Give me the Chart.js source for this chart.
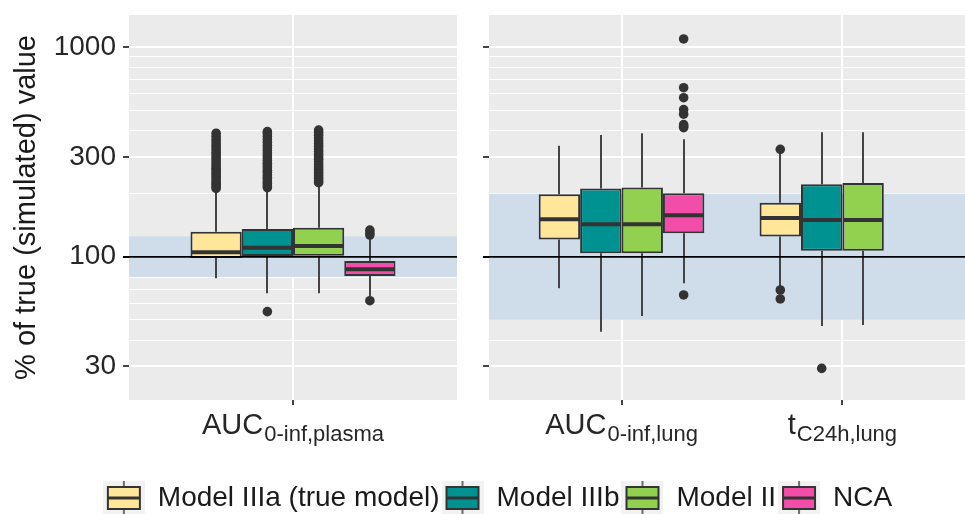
<!DOCTYPE html>
<html>
<head>
<meta charset="utf-8">
<script src="https://cdn.jsdelivr.net/npm/chart.js"></script>
<style>
html,body{margin:0;padding:0;background:#fff;overflow:hidden;width:965px;height:514px}
#wrap{position:relative;width:965px;height:514px}
canvas{position:absolute;top:0;left:0}
#c2{z-index:1}
#c1{z-index:2}
</style>
</head>
<body>
<div id="wrap">
<canvas id="c2" width="965" height="514"></canvas>
<canvas id="c1" width="470" height="514"></canvas>
</div>
<script>
// ---------------- data ----------------
const seriesNames = ['Model IIIa (true model)', 'Model IIIb', 'Model II', 'NCA'];
const seriesColors = ['#FFE699', '#009290', '#92D050', '#F34DAA'];

// Panel 1: AUC0-inf,plasma  (one value per series)
const plasmaLabelMain = ['AUC'];
const plasmaLabelSub = ['0-inf,plasma'];
const plasmaQ1 = [98.6, 100.9, 101, 81];
const plasmaMedian = [105, 110.5, 112.6, 87.2];
const plasmaQ3 = [131.8, 135.8, 137.7, 95.5];
const plasmaLow = [78.9, 66.9, 66.9, 64.5];
const plasmaHigh = [205, 208, 220, 123];
const plasmaOutliers = [
  [212, 216, 221, 225, 230, 236, 241, 247, 252, 259, 265, 271, 278, 285, 293, 300, 308, 316, 325, 334, 343, 353, 364, 376, 389],
  [54.7, 214, 219, 224, 229, 235, 240, 246, 253, 259, 266, 273, 280, 288, 296, 304, 313, 322, 331, 341, 352, 363, 375, 387, 396],
  [226, 231, 237, 243, 249, 255, 262, 269, 276, 284, 292, 300, 309, 318, 327, 337, 347, 358, 369, 381, 392, 403],
  [61.7, 127, 130, 134]
];

// Panel 2: [AUC0-inf,lung, tC24h,lung] per series
const lungLabelMain = ['AUC', 't'];
const lungLabelSub = ['0-inf,lung', 'C24h,lung'];
const lungQ1 = [[121, 125], [104, 107], [104, 107], [129.5, null]];
const lungMedian = [[151, 153], [143, 150], [143, 150], [158, null]];
const lungQ3 = [[199, 181], [212, 222], [214, 225], [201, null]];
const lungLow = [[70.7, 72], [43.9, 46.7], [52.2, 47.2], [74.7, null]];
const lungHigh = [[339, 317], [382, 393], [389, 393], [364, null]];
const lungOutliers = [
  [[], [62.9, 69.4, 326]],
  [[], [29.3]],
  [[], []],
  [[65.7, 414, 420, 428, 480, 505, 575, 642, 1097], []]
];

const yTickValues = [30, 100, 300, 1000];
const yMinorValues = [40, 50, 60, 70, 80, 90, 200, 400, 500, 600, 700, 800, 900];
const referenceValue = 100;
const plasmaBand = [80, 125];
const lungBand = [50, 200];

// ---------------- drawing ----------------
const FONT = "'Liberation Sans', Arial, Helvetica, sans-serif";
Chart.defaults.font.family = FONT;

const boxPlugin = {
  id: 'box',
  beforeDraw(chart) {
    const {ctx, chartArea: a} = chart;
    ctx.save();
    ctx.fillStyle = '#EBEBEB';
    ctx.fillRect(a.left, a.top, a.right - a.left, a.bottom - a.top);
    ctx.restore();
  },
  beforeDatasetsDraw(chart) {
    const {ctx, chartArea: a, scales: {y}} = chart;
    const o = chart.options.plugins.box;
    ctx.save();
    ctx.beginPath();
    ctx.rect(a.left, a.top, a.right - a.left, a.bottom - a.top);
    ctx.clip();
    const yb1 = y.getPixelForValue(o.band[1]);
    const yb0 = y.getPixelForValue(o.band[0]);
    ctx.fillStyle = '#CFDCEA';
    ctx.fillRect(a.left, yb1, a.right - a.left, yb0 - yb1);
    ctx.strokeStyle = '#444';
    ctx.lineWidth = 2;
    chart.data.datasets.forEach((ds, d) => {
      const meta = chart.getDatasetMeta(d);
      ds.data.forEach((pt, i) => {
        const el = meta.data[i];
        const x = Math.round(el.x);
        ctx.beginPath();
        ctx.moveTo(x, y.getPixelForValue(pt.hi));
        ctx.lineTo(x, y.getPixelForValue(pt.y[1]));
        ctx.moveTo(x, y.getPixelForValue(pt.y[0]));
        ctx.lineTo(x, y.getPixelForValue(pt.lo));
        ctx.stroke();
      });
    });
    ctx.restore();
  },
  afterDatasetsDraw(chart) {
    const {ctx, chartArea: a, scales: {y}} = chart;
    ctx.save();
    ctx.beginPath();
    ctx.rect(a.left, a.top, a.right - a.left, a.bottom - a.top);
    ctx.clip();
    chart.data.datasets.forEach((ds, d) => {
      const meta = chart.getDatasetMeta(d);
      ds.data.forEach((pt, i) => {
        const el = meta.data[i];
        const ym = y.getPixelForValue(pt.med);
        ctx.strokeStyle = '#333';
        ctx.lineWidth = 4;
        ctx.beginPath();
        ctx.moveTo(el.x - el.width / 2 + 1, ym);
        ctx.lineTo(el.x + el.width / 2 - 1, ym);
        ctx.stroke();
        ctx.fillStyle = '#333';
        pt.out.forEach(v => {
          ctx.beginPath();
          ctx.arc(el.x, y.getPixelForValue(v), 4.8, 0, Math.PI * 2);
          ctx.fill();
        });
      });
    });
    const yr = y.getPixelForValue(referenceValue);
    ctx.strokeStyle = '#000';
    ctx.lineWidth = 1.8;
    ctx.beginPath();
    ctx.moveTo(a.left, yr);
    ctx.lineTo(a.right, yr);
    ctx.stroke();
    ctx.restore();
  },
  afterDraw(chart) {
    const {ctx, scales: {x}} = chart;
    const o = chart.options.plugins.box;
    ctx.save();
    ctx.fillStyle = '#262626';
    ctx.textBaseline = 'alphabetic';
    ctx.textAlign = 'left';
    o.main.forEach((m, j) => {
      ctx.font = '29px ' + FONT;
      const w1 = ctx.measureText(m).width;
      ctx.font = '22px ' + FONT;
      const w2 = ctx.measureText(o.sub[j]).width;
      const start = x.getPixelForValue(j + 1) - (w1 + w2 + 1) / 2;
      ctx.font = '29px ' + FONT;
      ctx.fillText(m, start, 434);
      ctx.font = '22px ' + FONT;
      ctx.fillText(o.sub[j], start + w1 + 1, 441);
    });
    ctx.restore();
  }
};

function makeKey(color) {
  const c = document.createElement('canvas');
  c.width = 42; c.height = 40;
  const g = c.getContext('2d');
  g.fillStyle = '#F2F2F2';
  g.fillRect(0, 0, 42, 40);
  g.strokeStyle = '#444';
  g.lineWidth = 1.5;
  g.beginPath();
  g.moveTo(21, 0); g.lineTo(21, 9);
  g.moveTo(21, 31); g.lineTo(21, 40);
  g.stroke();
  g.fillStyle = color;
  g.fillRect(5, 9, 32, 22);
  g.strokeStyle = '#333';
  g.lineWidth = 2;
  g.strokeRect(5, 9, 32, 22);
  g.lineWidth = 3;
  g.beginPath();
  g.moveTo(5, 20); g.lineTo(37, 20);
  g.stroke();
  return c;
}
const keyImages = seriesColors.map(makeKey);

function makeChart(canvas, cfg) {
  const datasets = seriesNames.map((name, s) => ({
    label: name,
    backgroundColor: seriesColors[s],
    borderColor: '#333',
    borderWidth: 2,
    borderSkipped: false,
    data: cfg.q1[s].map((q, j) => q == null ? null : {
      x: j + 1,
      y: [q, cfg.q3[s][j]],
      med: cfg.med[s][j],
      lo: cfg.lo[s][j],
      hi: cfg.hi[s][j],
      out: cfg.out[s][j]
    }).filter(p => p)
  }));
  return new Chart(canvas, {
    type: 'bar',
    data: {datasets},
    options: {
      responsive: false,
      animation: false,
      devicePixelRatio: 1,
      events: [],
      categoryPercentage: cfg.catPct,
      barPercentage: 1,
      layout: {padding: cfg.padding},
      plugins: {
        legend: cfg.legend,
        tooltip: {enabled: false},
        box: {band: cfg.band, main: cfg.main, sub: cfg.sub}
      },
      scales: {
        x: {
          type: 'linear',
          min: 0.4,
          max: cfg.xMax,
          offset: false,
          afterBuildTicks: s => { s.ticks = cfg.main.map((_, j) => ({value: j + 1})); },
          afterFit: s => { s.height = cfg.xHeight; s.paddingLeft = 0; s.paddingRight = 0; },
          ticks: {display: false},
          grid: {offset: false, color: '#fff', lineWidth: 2, drawTicks: true, tickLength: 5, tickColor: '#444', tickWidth: 2},
          border: {display: false}
        },
        y: {
          type: 'logarithmic',
          beginAtZero: false,
          min: 20.7,
          max: 1428,
          afterBuildTicks: s => {
            s.ticks = [...yMinorValues, ...yTickValues].sort((p, q) => p - q).map(v => ({value: v}));
          },
          afterFit: s => { s.width = cfg.yWidth; s.paddingTop = 0; s.paddingBottom = 0; },
          ticks: {
            autoSkip: false,
            padding: 7,
            color: '#262626',
            font: {size: 28, family: FONT},
            callback: v => (cfg.showYLabels && yTickValues.includes(v)) ? String(v) : ''
          },
          grid: {
            color: '#fff',
            lineWidth: c => (c.tick && yTickValues.includes(c.tick.value)) ? 2 : 1,
            drawTicks: true,
            tickLength: 6,
            tickWidth: 2,
            tickColor: c => (c.tick && yTickValues.includes(c.tick.value)) ? (c.tick.value === referenceValue ? '#000' : '#444') : 'rgba(0,0,0,0)'
          },
          border: {display: false},
          title: cfg.yTitle
        }
      }
    },
    plugins: [boxPlugin]
  });
}

const wrap1 = a => a.map(v => [v]);

makeChart(document.getElementById('c2'), {
  q1: lungQ1, q3: lungQ3, med: lungMedian, lo: lungLow, hi: lungHigh, out: lungOutliers,
  main: lungLabelMain, sub: lungLabelSub, band: lungBand,
  catPct: 0.75, xMax: 2.555, xHeight: 81, yWidth: 458, showYLabels: false,
  padding: {left: 31, right: 0, top: 15, bottom: 0},
  yTitle: {display: false},
  legend: {
    display: true,
    position: 'bottom',
    maxHeight: 33,
    labels: {
      usePointStyle: true,
      pointStyleWidth: 40,
      padding: 3,
      color: '#1a1a1a',
      font: {size: 28, family: FONT},
      generateLabels: () => seriesNames.map((n, i) => ({
        text: n, pointStyle: keyImages[i], fillStyle: seriesColors[i],
        strokeStyle: '#333', lineWidth: 0, hidden: false, datasetIndex: i, fontColor: '#1a1a1a'
      }))
    }
  }
});

makeChart(document.getElementById('c1'), {
  q1: wrap1(plasmaQ1), q3: wrap1(plasmaQ3), med: wrap1(plasmaMedian), lo: wrap1(plasmaLow),
  hi: wrap1(plasmaHigh), out: wrap1(plasmaOutliers),
  main: plasmaLabelMain, sub: plasmaLabelSub, band: plasmaBand,
  catPct: 0.625, xMax: 1.6, xHeight: 114, yWidth: 129, showYLabels: true,
  padding: {left: 0, right: 13, top: 15, bottom: 0},
  yTitle: {display: true, text: '% of true (simulated) value', color: '#1a1a1a', font: {size: 29, family: FONT}, padding: {top: 10, bottom: 0}},
  legend: {display: false}
});
</script>
</body>
</html>
